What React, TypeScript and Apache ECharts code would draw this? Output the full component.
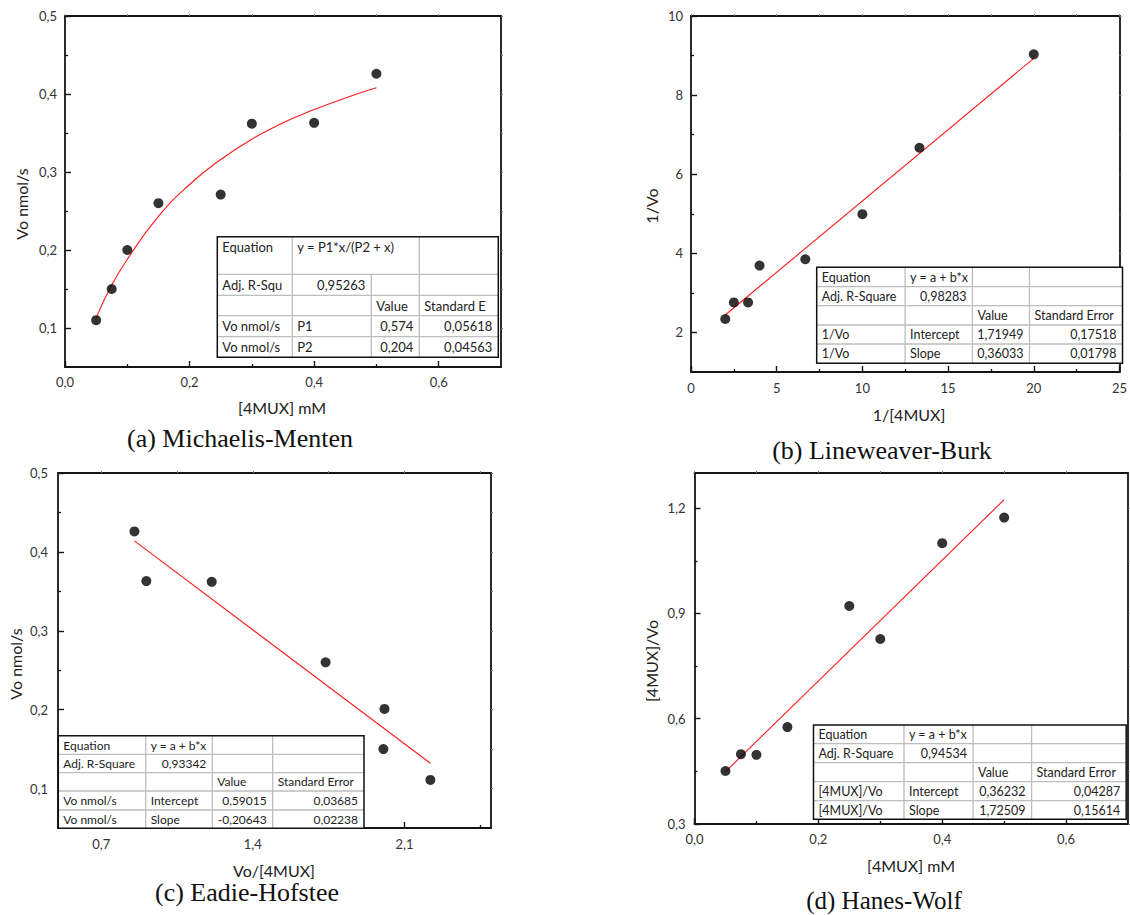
import React, { useEffect, useRef } from "react";
import * as echarts from "echarts";

// ---------------- DATA ----------------
// (a) Michaelis-Menten
const mmSubstrate = [0.05, 0.075, 0.1, 0.15, 0.25, 0.3, 0.4, 0.5];
const mmVelocity = [0.11, 0.15, 0.2, 0.26, 0.271, 0.362, 0.363, 0.426];
const mmFitX = [0.05, 0.075, 0.1, 0.15, 0.2, 0.25, 0.3, 0.35, 0.4, 0.45, 0.5];
const mmFitY = [0.113, 0.155, 0.188, 0.243, 0.284, 0.316, 0.342, 0.363, 0.38, 0.395, 0.408];

// (b) Lineweaver-Burk
const lbInvS = [2, 2.5, 3.33, 4, 6.67, 10, 13.33, 20];
const lbInvV = [2.34, 2.76, 2.76, 3.69, 3.85, 4.99, 6.67, 9.03];
const lbFitX = [2, 20];
const lbFitY = [2.44, 8.93];

// (c) Eadie-Hofstee
const ehVoverS = [0.853, 0.908, 1.21, 1.736, 2.008, 2.003, 2.22];
const ehV = [0.426, 0.363, 0.362, 0.26, 0.201, 0.15, 0.111];
const ehFitX = [0.853, 2.22];
const ehFitY = [0.414, 0.132];

// (d) Hanes-Wolf
const hwS = [0.05, 0.075, 0.1, 0.15, 0.25, 0.3, 0.4, 0.5];
const hwSoverV = [0.451, 0.499, 0.497, 0.576, 0.921, 0.827, 1.1, 1.173];
const hwFitX = [0.05, 0.5];
const hwFitY = [0.449, 1.224];

// tick values
const aXMajor = [0, 0.2, 0.4, 0.6];
const aXMinor = [0.1, 0.3, 0.5];
const aYMajor = [0.1, 0.2, 0.3, 0.4, 0.5];
const aYMinor = [0.15, 0.25, 0.35, 0.45];
const bXMajor = [0, 5, 10, 15, 20, 25];
const bXMinor = [2.5, 7.5, 12.5, 17.5, 22.5];
const bYMajor = [2, 4, 6, 8, 10];
const bYMinor = [3, 5, 7, 9];
const cXMajor = [0.7, 1.4, 2.1];
const cXMinor = [1.05, 1.75, 2.45];
const cYMajor = [0.1, 0.2, 0.3, 0.4, 0.5];
const cYMinor = [0.15, 0.25, 0.35, 0.45];
const dXMajor = [0, 0.2, 0.4, 0.6];
const dXMinor = [0.1, 0.3, 0.5];
const dYMajor = [0.3, 0.6, 0.9, 1.2];
const dYMinor = [0.45, 0.75, 1.05];

// texts
const captions = ["(a) Michaelis-Menten", "(b) Lineweaver-Burk", "(c) Eadie-Hofstee", "(d) Hanes-Wolf"];
const xNames = ["[4MUX] mM", "1/[4MUX]", "Vo/[4MUX]", "[4MUX] mM"];
const yNames = ["Vo nmol/s", "1/Vo", "Vo nmol/s", "[4MUX]/Vo"];

const tableA = [
  ["Equation", "y = P1*x/(P2 + x)", "", ""],
  ["Adj. R-Squ", "0,95263", "", ""],
  ["", "", "Value", "Standard E"],
  ["Vo nmol/s", "P1", "0,574", "0,05618"],
  ["Vo nmol/s", "P2", "0,204", "0,04563"],
];
const tableB = [
  ["Equation", "y = a + b*x", "", ""],
  ["Adj. R-Square", "0,98283", "", ""],
  ["", "", "Value", "Standard Error"],
  ["1/Vo", "Intercept", "1,71949", "0,17518"],
  ["1/Vo", "Slope", "0,36033", "0,01798"],
];
const tableC = [
  ["Equation", "y = a + b*x", "", ""],
  ["Adj. R-Square", "0,93342", "", ""],
  ["", "", "Value", "Standard Error"],
  ["Vo nmol/s", "Intercept", "0,59015", "0,03685"],
  ["Vo nmol/s", "Slope", "-0,20643", "0,02238"],
];
const tableD = [
  ["Equation", "y = a + b*x", "", ""],
  ["Adj. R-Square", "0,94534", "", ""],
  ["", "", "Value", "Standard Error"],
  ["[4MUX]/Vo", "Intercept", "0,36232", "0,04287"],
  ["[4MUX]/Vo", "Slope", "1,72509", "0,15614"],
];

// ---------------- LAYOUT ----------------
const FONT = 'Lato, "Noto Sans", sans-serif';
const SERIF = '"Liberation Serif", "DejaVu Serif", serif';

const panelLayout = [
  {
    grid: { left: 65, top: 16, width: 436, height: 351 },
    x: { min: 0, max: 0.7, major: aXMajor, minor: aXMinor, dec: 1, margin: 8 },
    y: { min: 0.05, max: 0.5, major: aYMajor, minor: aYMinor, dec: 1, margin: 8 },
    xName: [282, 407], yName: [21, 204], caption: [240, 438], capSize: 26,
    table: { cols: [217.3, 292.3, 371.3, 419.3, 498.3], rows: [236.7, 274.3, 295.3, 315.7, 336.7, 357.3], font: 13, merged: true, firstOffset: 10.5 },
  },
  {
    grid: { left: 691, top: 16, width: 437, height: 356 },
    x: { min: 0, max: 25, major: bXMajor, minor: bXMinor, dec: 0, margin: 9 },
    y: { min: 1, max: 10, major: bYMajor, minor: bYMinor, dec: 0, margin: 8 },
    xName: [909, 414], yName: [651, 206], caption: [882, 450], capSize: 26,
    table: { cols: [816.7, 905.1, 972.4, 1029.5, 1122.5], rows: [267.3, 286.7, 305.7, 325, 344, 363.3], font: 12.5, merged: false, firstOffset: 0 },
  },
  {
    grid: { left: 58, top: 473, width: 433, height: 355 },
    x: { min: 0.5, max: 2.5, major: cXMajor, minor: cXMinor, dec: 1, margin: 9 },
    y: { min: 0.05, max: 0.5, major: cYMajor, minor: cYMinor, dec: 1, margin: 10 },
    xName: [274, 870], yName: [15, 664], caption: [247, 892], capSize: 26,
    table: { cols: [58.3, 145.7, 212.3, 272.7, 364], rows: [735.7, 754.3, 772.7, 791, 810, 828.3], font: 12, merged: false, firstOffset: 0 },
  },
  {
    grid: { left: 694.5, top: 473, width: 433.5, height: 351 },
    x: { min: 0, max: 0.7, major: dXMajor, minor: dXMinor, dec: 1, margin: 8.5 },
    y: { min: 0.3, max: 1.3, major: dYMajor, minor: dYMinor, dec: 1, margin: 9 },
    xName: [911, 865], yName: [651, 661], caption: [884, 900], capSize: 25,
    table: { cols: [813.5, 904, 973.1, 1031.6, 1126.2], rows: [725, 743.7, 762.7, 781.7, 800.7, 819.3], font: 12.5, merged: false, firstOffset: 0 },
  },
];

const panelData = [
  { px: mmSubstrate, py: mmVelocity, fx: mmFitX, fy: mmFitY, smooth: true, table: tableA },
  { px: lbInvS, py: lbInvV, fx: lbFitX, fy: lbFitY, smooth: false, table: tableB },
  { px: ehVoverS, py: ehV, fx: ehFitX, fy: ehFitY, smooth: false, table: tableC },
  { px: hwS, py: hwSoverV, fx: hwFitX, fy: hwFitY, smooth: false, table: tableD },
];

const AXIS_COLOR = "#151515";

function fmt(dec: number) {
  return (v: number) => v.toFixed(dec).replace(".", ",");
}

function buildAxes(dim: "x" | "y", gridIndex: number, cfg: any) {
  const isX = dim === "x";
  const base = { gridIndex, type: "value", min: cfg.min, max: cfg.max, splitLine: { show: false } };
  const major = {
    ...base,
    position: isX ? "bottom" : "left",
    axisLine: { show: true, onZero: false, lineStyle: { color: AXIS_COLOR, width: 1.8 } },
    axisTick: { show: true, inside: true, length: 6, customValues: cfg.major, lineStyle: { color: AXIS_COLOR, width: 1.4 } },
    axisLabel: {
      show: true,
      customValues: cfg.major,
      formatter: fmt(cfg.dec),
      margin: cfg.margin,
      fontFamily: FONT,
      fontSize: 13,
      color: "#333",
    },
  };
  const minor = {
    ...base,
    position: isX ? "bottom" : "left",
    axisLine: { show: false, onZero: false },
    axisTick: { show: true, inside: true, length: 3, customValues: cfg.minor, lineStyle: { color: AXIS_COLOR, width: 1.3 } },
    axisLabel: { show: false },
  };
  const mirror = {
    ...base,
    position: isX ? "top" : "right",
    axisLine: { show: true, onZero: false, lineStyle: { color: AXIS_COLOR, width: 1.8 } },
    axisTick: { show: true, inside: false, length: 2, customValues: [...cfg.major, ...cfg.minor], lineStyle: { color: "#777", width: 1 } },
    axisLabel: { show: false },
  };
  return [major, minor, mirror];
}

function line(x1: number, y1: number, x2: number, y2: number, stroke: string, lw: number, z: number) {
  return { type: "line", shape: { x1, y1, x2, y2 }, style: { stroke, lineWidth: lw }, z, silent: true };
}

function buildTable(rows: string[][], L: any) {
  const els: any[] = [];
  const x0 = L.cols[0];
  const x4 = L.cols[4];
  const y0 = L.rows[0];
  const y5 = L.rows[5];
  els.push({ type: "rect", shape: { x: x0, y: y0, width: x4 - x0, height: y5 - y0 }, style: { fill: "#fff" }, z: 20, silent: true });
  for (let r = 1; r < 5; r++) els.push(line(x0, L.rows[r], x4, L.rows[r], "#bdbdbd", 1.3, 21));
  for (let c = 1; c < 4; c++) {
    const ys = L.merged && c === 2 ? L.rows[1] : y0;
    els.push(line(L.cols[c], ys, L.cols[c], y5, "#bdbdbd", 1.3, 21));
  }
  els.push({
    type: "rect",
    shape: { x: x0, y: y0, width: x4 - x0, height: y5 - y0 },
    style: { fill: "none", stroke: "#111", lineWidth: 1.5 },
    z: 22,
    silent: true,
  });
  rows.forEach((row, r) => {
    row.forEach((txt, c) => {
      if (!txt) return;
      const right = (c === 1 && r === 1) || (c >= 2 && r >= 3);
      const x = right ? L.cols[c + 1] - 6 : L.cols[c] + 5;
      const y = r === 0 && L.firstOffset ? L.rows[0] + L.firstOffset : (L.rows[r] + L.rows[r + 1]) / 2;
      els.push({
        type: "text",
        x,
        y,
        z: 23,
        silent: true,
        style: {
          text: txt,
          fill: "#222",
          font: `${L.font}px ${FONT}`,
          align: right ? "right" : "left",
          verticalAlign: "middle",
        },
      });
    });
  });
  return els;
}

function buildOption() {
  const grids: any[] = [];
  const xAxes: any[] = [];
  const yAxes: any[] = [];
  const series: any[] = [];
  const graphics: any[] = [];

  panelLayout.forEach((P, i) => {
    const D = panelData[i];
    grids.push({ ...P.grid, containLabel: false });
    xAxes.push(...buildAxes("x", i, P.x));
    yAxes.push(...buildAxes("y", i, P.y));
    series.push({
      type: "line",
      xAxisIndex: i * 3,
      yAxisIndex: i * 3,
      data: D.fx.map((x, k) => [x, D.fy[k]]),
      showSymbol: false,
      smooth: D.smooth,
      lineStyle: { color: "#ff1a1a", width: 1.1 },
      z: 3,
    });
    series.push({
      type: "scatter",
      xAxisIndex: i * 3,
      yAxisIndex: i * 3,
      data: D.px.map((x, k) => [x, D.py[k]]),
      symbol: "circle",
      symbolSize: 10,
      itemStyle: { color: "#000" },
      z: 4,
    });
    graphics.push({
      type: "text",
      x: P.xName[0],
      y: P.xName[1],
      silent: true,
      style: { text: xNames[i], font: `16px ${FONT}`, fill: "#222", align: "center", verticalAlign: "middle" },
    });
    graphics.push({
      type: "text",
      x: P.yName[0],
      y: P.yName[1],
      rotation: Math.PI / 2,
      silent: true,
      style: { text: yNames[i], font: `16px ${FONT}`, fill: "#222", align: "center", verticalAlign: "middle" },
    });
    graphics.push({
      type: "text",
      x: P.caption[0],
      y: P.caption[1],
      silent: true,
      style: { text: captions[i], font: `${P.capSize}px ${SERIF}`, fill: "#111", align: "center", verticalAlign: "middle" },
    });
    graphics.push(...buildTable(D.table, P.table));
  });

  return {
    animation: false,
    backgroundColor: "#fff",
    grid: grids,
    xAxis: xAxes,
    yAxis: yAxes,
    series,
    graphic: { elements: graphics },
  };
}

export default function App() {
  const ref = useRef<HTMLDivElement>(null);
  useEffect(() => {
    if (!ref.current) return;
    const chart = echarts.init(ref.current, null, { renderer: "svg" });
    chart.setOption(buildOption() as any);
    return () => {
      chart.dispose();
    };
  }, []);
  return (
    <div
      ref={ref}
      style={{ position: "absolute", left: 0, top: 0, width: 1130, height: 915, background: "#fff" }}
    />
  );
}
